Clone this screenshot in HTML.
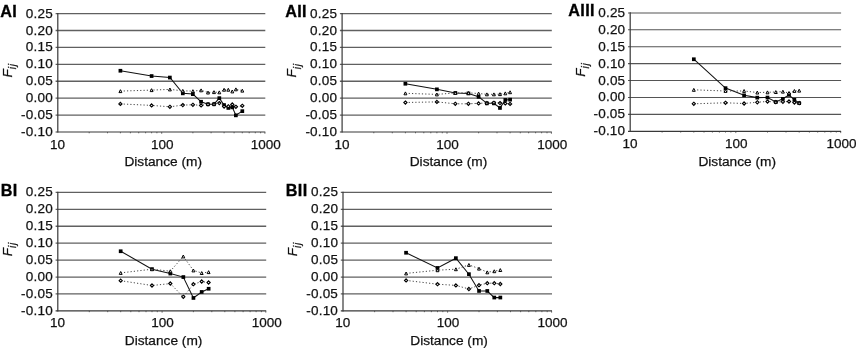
<!DOCTYPE html>
<html><head><meta charset="utf-8"><title>Fij vs distance</title>
<style>html,body{margin:0;padding:0;background:#fff}svg{display:block}</style></head>
<body>
<svg width="856" height="348" viewBox="0 0 856 348" font-family="Liberation Sans, Arial, Helvetica, sans-serif" fill="#111" stroke="#111" stroke-width="0.25">
<g>
<line x1="55.6" y1="13.60" x2="265.3" y2="13.60" stroke="#606060" stroke-width="1.3"/>
<line x1="55.6" y1="30.51" x2="265.3" y2="30.51" stroke="#606060" stroke-width="1.3"/>
<line x1="55.6" y1="47.43" x2="265.3" y2="47.43" stroke="#606060" stroke-width="1.3"/>
<line x1="55.6" y1="64.34" x2="265.3" y2="64.34" stroke="#606060" stroke-width="1.3"/>
<line x1="55.6" y1="81.26" x2="265.3" y2="81.26" stroke="#606060" stroke-width="1.3"/>
<line x1="55.6" y1="98.17" x2="265.3" y2="98.17" stroke="#606060" stroke-width="1.3"/>
<line x1="55.6" y1="115.09" x2="265.3" y2="115.09" stroke="#606060" stroke-width="1.3"/>
<line x1="55.6" y1="132.00" x2="265.3" y2="132.00" stroke="#383838" stroke-width="1.15"/>
<line x1="57.8" y1="13.00" x2="57.8" y2="132.60" stroke="#383838" stroke-width="1.2"/>
<path d="M89.2 132.0v1.3M107.5 132.0v1.3M120.4 132.0v1.3M130.4 132.0v1.3M138.7 132.0v1.3M145.6 132.0v1.3M151.6 132.0v1.3M156.9 132.0v1.3M192.9 132.0v1.3M211.1 132.0v1.3M224.1 132.0v1.3M234.1 132.0v1.3M242.3 132.0v1.3M249.2 132.0v1.3M255.3 132.0v1.3M260.6 132.0v1.3M161.7 132.0v1.8M264.9 132.0v1.8" stroke="#383838" stroke-width="0.7" fill="none"/>
<text x="52.9" y="17.60" font-size="13.5" letter-spacing="0.2" text-anchor="end">0.25</text>
<text x="52.9" y="34.51" font-size="13.5" letter-spacing="0.2" text-anchor="end">0.20</text>
<text x="52.9" y="51.43" font-size="13.5" letter-spacing="0.2" text-anchor="end">0.15</text>
<text x="52.9" y="68.34" font-size="13.5" letter-spacing="0.2" text-anchor="end">0.10</text>
<text x="52.9" y="85.26" font-size="13.5" letter-spacing="0.2" text-anchor="end">0.05</text>
<text x="52.9" y="102.17" font-size="13.5" letter-spacing="0.2" text-anchor="end">0.00</text>
<text x="52.9" y="119.09" font-size="13.5" letter-spacing="0.2" text-anchor="end">-0.05</text>
<text x="52.9" y="136.00" font-size="13.5" letter-spacing="0.2" text-anchor="end">-0.10</text>
<text x="57.6" y="148.50" font-size="13.5" text-anchor="middle">10</text>
<text x="162.2" y="148.50" font-size="13.5" text-anchor="middle">100</text>
<text x="265.8" y="148.50" font-size="13.5" text-anchor="middle">1000</text>
<text x="163.2" y="166.30" font-size="13.7" text-anchor="middle">Distance (m)</text>
<text x="0.2" y="17.00" font-size="16.2" font-weight="bold" fill="#000" stroke="#000" stroke-width="0.3" letter-spacing="0.35">AI</text>
<text transform="translate(12.1 77.4) rotate(-90)" font-size="13.5" font-style="italic">F<tspan font-size="10.3" dy="4.1" letter-spacing="0.7">ij</tspan></text>
<polyline points="120.4,70.8 151.6,76.0 169.9,77.5 182.8,93.3 192.9,94.1 201.1,101.8 208.0,104.2 214.0,104.2 219.3,98.1 224.1,105.0 228.3,107.9 232.3,107.3 235.9,115.3 242.3,111.1" fill="none" stroke="#111" stroke-width="1.05"/>
<rect x="118.55" y="68.90" width="3.7" height="3.7" fill="#000" stroke="none"/>
<rect x="149.76" y="74.20" width="3.7" height="3.7" fill="#000" stroke="none"/>
<rect x="168.01" y="75.70" width="3.7" height="3.7" fill="#000" stroke="none"/>
<rect x="180.96" y="91.50" width="3.7" height="3.7" fill="#000" stroke="none"/>
<rect x="191.00" y="92.30" width="3.7" height="3.7" fill="#000" stroke="none"/>
<rect x="199.21" y="99.90" width="3.7" height="3.7" fill="#000" stroke="none"/>
<rect x="206.15" y="102.40" width="3.7" height="3.7" fill="#000" stroke="none"/>
<rect x="212.16" y="102.40" width="3.7" height="3.7" fill="#000" stroke="none"/>
<rect x="217.46" y="96.30" width="3.7" height="3.7" fill="#000" stroke="none"/>
<rect x="222.20" y="103.20" width="3.7" height="3.7" fill="#000" stroke="none"/>
<rect x="226.49" y="106.10" width="3.7" height="3.7" fill="#000" stroke="none"/>
<rect x="230.41" y="105.50" width="3.7" height="3.7" fill="#000" stroke="none"/>
<rect x="234.01" y="113.50" width="3.7" height="3.7" fill="#000" stroke="none"/>
<rect x="240.46" y="109.30" width="3.7" height="3.7" fill="#000" stroke="none"/>
<polyline points="120.4,91.1 151.6,90.1 169.9,89.4 182.8,90.8 192.9,91.1 201.1,90.3 208.0,92.5 214.0,92.1 219.3,92.3 224.1,89.8 228.3,89.8 232.3,91.4 235.9,89.3 242.3,90.6" fill="none" stroke="#444" stroke-width="1" stroke-dasharray="1.2 2.1"/>
<polyline points="120.4,103.9 151.6,105.4 169.9,106.8 182.8,105.1 192.9,104.8 201.1,105.3 208.0,104.2 214.0,104.1 219.3,103.1 224.1,106.5 228.3,106.2 232.3,104.4 235.9,106.8 242.3,105.8" fill="none" stroke="#444" stroke-width="1" stroke-dasharray="1.2 2.1"/>
<path d="M120.4 89.7l1.45 2.9h-2.9z" fill="#fff" stroke="#000" stroke-width="1.0"/>
<path d="M151.6 88.7l1.45 2.9h-2.9z" fill="#fff" stroke="#000" stroke-width="1.0"/>
<path d="M169.9 88.0l1.45 2.9h-2.9z" fill="#fff" stroke="#000" stroke-width="1.0"/>
<path d="M182.8 89.4l1.45 2.9h-2.9z" fill="#fff" stroke="#000" stroke-width="1.0"/>
<path d="M192.9 89.7l1.45 2.9h-2.9z" fill="#fff" stroke="#000" stroke-width="1.0"/>
<path d="M201.1 88.9l1.45 2.9h-2.9z" fill="#fff" stroke="#000" stroke-width="1.0"/>
<path d="M208.0 91.1l1.45 2.9h-2.9z" fill="#fff" stroke="#000" stroke-width="1.0"/>
<path d="M214.0 90.7l1.45 2.9h-2.9z" fill="#fff" stroke="#000" stroke-width="1.0"/>
<path d="M219.3 90.9l1.45 2.9h-2.9z" fill="#fff" stroke="#000" stroke-width="1.0"/>
<path d="M224.1 88.3l1.45 2.9h-2.9z" fill="#fff" stroke="#000" stroke-width="1.0"/>
<path d="M228.3 88.3l1.45 2.9h-2.9z" fill="#fff" stroke="#000" stroke-width="1.0"/>
<path d="M232.3 90.0l1.45 2.9h-2.9z" fill="#fff" stroke="#000" stroke-width="1.0"/>
<path d="M235.9 87.9l1.45 2.9h-2.9z" fill="#fff" stroke="#000" stroke-width="1.0"/>
<path d="M242.3 89.2l1.45 2.9h-2.9z" fill="#fff" stroke="#000" stroke-width="1.0"/>
<path d="M120.4 102.3l1.6 1.6l-1.6 1.6l-1.6 -1.6z" fill="#fff" stroke="#000" stroke-width="1.1"/>
<path d="M151.6 103.8l1.6 1.6l-1.6 1.6l-1.6 -1.6z" fill="#fff" stroke="#000" stroke-width="1.1"/>
<path d="M169.9 105.2l1.6 1.6l-1.6 1.6l-1.6 -1.6z" fill="#fff" stroke="#000" stroke-width="1.1"/>
<path d="M182.8 103.5l1.6 1.6l-1.6 1.6l-1.6 -1.6z" fill="#fff" stroke="#000" stroke-width="1.1"/>
<path d="M192.9 103.2l1.6 1.6l-1.6 1.6l-1.6 -1.6z" fill="#fff" stroke="#000" stroke-width="1.1"/>
<path d="M201.1 103.8l1.6 1.6l-1.6 1.6l-1.6 -1.6z" fill="#fff" stroke="#000" stroke-width="1.1"/>
<path d="M208.0 102.7l1.6 1.6l-1.6 1.6l-1.6 -1.6z" fill="#fff" stroke="#000" stroke-width="1.1"/>
<path d="M214.0 102.5l1.6 1.6l-1.6 1.6l-1.6 -1.6z" fill="#fff" stroke="#000" stroke-width="1.1"/>
<path d="M219.3 101.5l1.6 1.6l-1.6 1.6l-1.6 -1.6z" fill="#fff" stroke="#000" stroke-width="1.1"/>
<path d="M224.1 105.0l1.6 1.6l-1.6 1.6l-1.6 -1.6z" fill="#fff" stroke="#000" stroke-width="1.1"/>
<path d="M228.3 104.7l1.6 1.6l-1.6 1.6l-1.6 -1.6z" fill="#fff" stroke="#000" stroke-width="1.1"/>
<path d="M232.3 102.8l1.6 1.6l-1.6 1.6l-1.6 -1.6z" fill="#fff" stroke="#000" stroke-width="1.1"/>
<path d="M235.9 105.2l1.6 1.6l-1.6 1.6l-1.6 -1.6z" fill="#fff" stroke="#000" stroke-width="1.1"/>
<path d="M242.3 104.2l1.6 1.6l-1.6 1.6l-1.6 -1.6z" fill="#fff" stroke="#000" stroke-width="1.1"/>
</g>
<g>
<line x1="339.9" y1="13.60" x2="551.8" y2="13.60" stroke="#606060" stroke-width="1.3"/>
<line x1="339.9" y1="30.51" x2="551.8" y2="30.51" stroke="#606060" stroke-width="1.3"/>
<line x1="339.9" y1="47.43" x2="551.8" y2="47.43" stroke="#606060" stroke-width="1.3"/>
<line x1="339.9" y1="64.34" x2="551.8" y2="64.34" stroke="#606060" stroke-width="1.3"/>
<line x1="339.9" y1="81.26" x2="551.8" y2="81.26" stroke="#606060" stroke-width="1.3"/>
<line x1="339.9" y1="98.17" x2="551.8" y2="98.17" stroke="#606060" stroke-width="1.3"/>
<line x1="339.9" y1="115.09" x2="551.8" y2="115.09" stroke="#606060" stroke-width="1.3"/>
<line x1="339.9" y1="132.00" x2="551.8" y2="132.00" stroke="#383838" stroke-width="1.15"/>
<line x1="342.1" y1="13.00" x2="342.1" y2="132.60" stroke="#383838" stroke-width="1.2"/>
<path d="M373.8 132.0v1.3M392.3 132.0v1.3M405.4 132.0v1.3M415.5 132.0v1.3M423.8 132.0v1.3M430.8 132.0v1.3M436.9 132.0v1.3M442.3 132.0v1.3M478.6 132.0v1.3M497.0 132.0v1.3M510.1 132.0v1.3M520.3 132.0v1.3M528.6 132.0v1.3M535.6 132.0v1.3M541.6 132.0v1.3M547.0 132.0v1.3M447.0 132.0v1.8M551.4 132.0v1.8" stroke="#383838" stroke-width="0.7" fill="none"/>
<text x="337.2" y="17.60" font-size="13.5" letter-spacing="0.2" text-anchor="end">0.25</text>
<text x="337.2" y="34.51" font-size="13.5" letter-spacing="0.2" text-anchor="end">0.20</text>
<text x="337.2" y="51.43" font-size="13.5" letter-spacing="0.2" text-anchor="end">0.15</text>
<text x="337.2" y="68.34" font-size="13.5" letter-spacing="0.2" text-anchor="end">0.10</text>
<text x="337.2" y="85.26" font-size="13.5" letter-spacing="0.2" text-anchor="end">0.05</text>
<text x="337.2" y="102.17" font-size="13.5" letter-spacing="0.2" text-anchor="end">0.00</text>
<text x="337.2" y="119.09" font-size="13.5" letter-spacing="0.2" text-anchor="end">-0.05</text>
<text x="337.2" y="136.00" font-size="13.5" letter-spacing="0.2" text-anchor="end">-0.10</text>
<text x="341.9" y="148.50" font-size="13.5" text-anchor="middle">10</text>
<text x="447.5" y="148.50" font-size="13.5" text-anchor="middle">100</text>
<text x="552.3" y="148.50" font-size="13.5" text-anchor="middle">1000</text>
<text x="448.5" y="166.30" font-size="13.7" text-anchor="middle">Distance (m)</text>
<text x="285.2" y="17.00" font-size="16.2" font-weight="bold" fill="#000" stroke="#000" stroke-width="0.3" letter-spacing="0.35">AII</text>
<text transform="translate(296.4 77.4) rotate(-90)" font-size="13.5" font-style="italic">F<tspan font-size="10.3" dy="4.1" letter-spacing="0.7">ij</tspan></text>
<polyline points="405.4,83.8 436.9,89.3 455.3,92.9 468.4,93.4 478.6,96.8 486.9,103.3 493.9,103.3 500.0,107.9 505.3,99.9 510.1,99.6" fill="none" stroke="#111" stroke-width="1.05"/>
<rect x="403.52" y="81.90" width="3.7" height="3.7" fill="#000" stroke="none"/>
<rect x="435.05" y="87.50" width="3.7" height="3.7" fill="#000" stroke="none"/>
<rect x="453.49" y="91.10" width="3.7" height="3.7" fill="#000" stroke="none"/>
<rect x="466.58" y="91.60" width="3.7" height="3.7" fill="#000" stroke="none"/>
<rect x="476.73" y="95.00" width="3.7" height="3.7" fill="#000" stroke="none"/>
<rect x="485.03" y="101.50" width="3.7" height="3.7" fill="#000" stroke="none"/>
<rect x="492.04" y="101.50" width="3.7" height="3.7" fill="#000" stroke="none"/>
<rect x="498.11" y="106.10" width="3.7" height="3.7" fill="#000" stroke="none"/>
<rect x="503.47" y="98.10" width="3.7" height="3.7" fill="#000" stroke="none"/>
<rect x="508.27" y="97.80" width="3.7" height="3.7" fill="#000" stroke="none"/>
<polyline points="405.4,93.3 436.9,94.4 455.3,92.9 468.4,92.9 478.6,93.5 486.9,94.3 493.9,94.3 500.0,94.1 505.3,93.3 510.1,92.2" fill="none" stroke="#444" stroke-width="1" stroke-dasharray="1.2 2.1"/>
<polyline points="405.4,102.5 436.9,101.9 455.3,103.8 468.4,103.8 478.6,103.3 486.9,103.0 493.9,102.8 500.0,103.0 505.3,103.3 510.1,103.9" fill="none" stroke="#444" stroke-width="1" stroke-dasharray="1.2 2.1"/>
<path d="M405.4 91.9l1.45 2.9h-2.9z" fill="#fff" stroke="#000" stroke-width="1.0"/>
<path d="M436.9 93.0l1.45 2.9h-2.9z" fill="#fff" stroke="#000" stroke-width="1.0"/>
<path d="M455.3 91.5l1.45 2.9h-2.9z" fill="#fff" stroke="#000" stroke-width="1.0"/>
<path d="M468.4 91.5l1.45 2.9h-2.9z" fill="#fff" stroke="#000" stroke-width="1.0"/>
<path d="M478.6 92.1l1.45 2.9h-2.9z" fill="#fff" stroke="#000" stroke-width="1.0"/>
<path d="M486.9 92.9l1.45 2.9h-2.9z" fill="#fff" stroke="#000" stroke-width="1.0"/>
<path d="M493.9 92.9l1.45 2.9h-2.9z" fill="#fff" stroke="#000" stroke-width="1.0"/>
<path d="M500.0 92.7l1.45 2.9h-2.9z" fill="#fff" stroke="#000" stroke-width="1.0"/>
<path d="M505.3 91.9l1.45 2.9h-2.9z" fill="#fff" stroke="#000" stroke-width="1.0"/>
<path d="M510.1 90.8l1.45 2.9h-2.9z" fill="#fff" stroke="#000" stroke-width="1.0"/>
<path d="M405.4 101.0l1.6 1.6l-1.6 1.6l-1.6 -1.6z" fill="#fff" stroke="#000" stroke-width="1.1"/>
<path d="M436.9 100.3l1.6 1.6l-1.6 1.6l-1.6 -1.6z" fill="#fff" stroke="#000" stroke-width="1.1"/>
<path d="M455.3 102.2l1.6 1.6l-1.6 1.6l-1.6 -1.6z" fill="#fff" stroke="#000" stroke-width="1.1"/>
<path d="M468.4 102.2l1.6 1.6l-1.6 1.6l-1.6 -1.6z" fill="#fff" stroke="#000" stroke-width="1.1"/>
<path d="M478.6 101.8l1.6 1.6l-1.6 1.6l-1.6 -1.6z" fill="#fff" stroke="#000" stroke-width="1.1"/>
<path d="M486.9 101.5l1.6 1.6l-1.6 1.6l-1.6 -1.6z" fill="#fff" stroke="#000" stroke-width="1.1"/>
<path d="M493.9 101.2l1.6 1.6l-1.6 1.6l-1.6 -1.6z" fill="#fff" stroke="#000" stroke-width="1.1"/>
<path d="M500.0 101.5l1.6 1.6l-1.6 1.6l-1.6 -1.6z" fill="#fff" stroke="#000" stroke-width="1.1"/>
<path d="M505.3 101.8l1.6 1.6l-1.6 1.6l-1.6 -1.6z" fill="#fff" stroke="#000" stroke-width="1.1"/>
<path d="M510.1 102.3l1.6 1.6l-1.6 1.6l-1.6 -1.6z" fill="#fff" stroke="#000" stroke-width="1.1"/>
</g>
<g>
<line x1="628.0" y1="12.90" x2="841.1" y2="12.90" stroke="#555" stroke-width="1.05"/>
<line x1="628.0" y1="29.81" x2="841.1" y2="29.81" stroke="#555" stroke-width="1.05"/>
<line x1="628.0" y1="46.73" x2="841.1" y2="46.73" stroke="#555" stroke-width="1.05"/>
<line x1="628.0" y1="63.64" x2="841.1" y2="63.64" stroke="#555" stroke-width="1.05"/>
<line x1="628.0" y1="80.56" x2="841.1" y2="80.56" stroke="#555" stroke-width="1.05"/>
<line x1="628.0" y1="97.47" x2="841.1" y2="97.47" stroke="#555" stroke-width="1.05"/>
<line x1="628.0" y1="114.39" x2="841.1" y2="114.39" stroke="#555" stroke-width="1.05"/>
<line x1="628.0" y1="131.30" x2="841.1" y2="131.30" stroke="#383838" stroke-width="1.15"/>
<line x1="630.2" y1="12.30" x2="630.2" y2="131.90" stroke="#383838" stroke-width="1.2"/>
<path d="M662.1 131.3v1.3M680.7 131.3v1.3M693.8 131.3v1.3M704.0 131.3v1.3M712.4 131.3v1.3M719.4 131.3v1.3M725.5 131.3v1.3M730.9 131.3v1.3M767.5 131.3v1.3M786.0 131.3v1.3M799.2 131.3v1.3M809.4 131.3v1.3M817.7 131.3v1.3M824.8 131.3v1.3M830.9 131.3v1.3M836.3 131.3v1.3M735.8 131.3v1.8M840.7 131.3v1.8" stroke="#383838" stroke-width="0.7" fill="none"/>
<text x="625.3" y="16.90" font-size="13.5" letter-spacing="0.2" text-anchor="end">0.25</text>
<text x="625.3" y="33.81" font-size="13.5" letter-spacing="0.2" text-anchor="end">0.20</text>
<text x="625.3" y="50.73" font-size="13.5" letter-spacing="0.2" text-anchor="end">0.15</text>
<text x="625.3" y="67.64" font-size="13.5" letter-spacing="0.2" text-anchor="end">0.10</text>
<text x="625.3" y="84.56" font-size="13.5" letter-spacing="0.2" text-anchor="end">0.05</text>
<text x="625.3" y="101.47" font-size="13.5" letter-spacing="0.2" text-anchor="end">0.00</text>
<text x="625.3" y="118.39" font-size="13.5" letter-spacing="0.2" text-anchor="end">-0.05</text>
<text x="625.3" y="135.30" font-size="13.5" letter-spacing="0.2" text-anchor="end">-0.10</text>
<text x="630.0" y="147.80" font-size="13.5" text-anchor="middle">10</text>
<text x="736.2" y="147.80" font-size="13.5" text-anchor="middle">100</text>
<text x="841.6" y="147.80" font-size="13.5" text-anchor="middle">1000</text>
<text x="737.2" y="165.60" font-size="13.7" text-anchor="middle">Distance (m)</text>
<text x="568.3" y="16.30" font-size="16.2" font-weight="bold" fill="#000" stroke="#000" stroke-width="0.3" letter-spacing="0.35">AIII</text>
<text transform="translate(584.5 76.7) rotate(-90)" font-size="13.5" font-style="italic">F<tspan font-size="10.3" dy="4.1" letter-spacing="0.7">ij</tspan></text>
<polyline points="693.8,59.2 725.5,88.1 744.1,95.3 757.3,97.6 767.5,97.5 775.8,102.0 782.9,98.8 789.0,94.8 794.4,99.8 799.2,103.1" fill="none" stroke="#111" stroke-width="1.05"/>
<rect x="691.98" y="57.40" width="3.7" height="3.7" fill="#000" stroke="none"/>
<rect x="723.69" y="86.30" width="3.7" height="3.7" fill="#000" stroke="none"/>
<rect x="742.24" y="93.50" width="3.7" height="3.7" fill="#000" stroke="none"/>
<rect x="755.40" y="95.80" width="3.7" height="3.7" fill="#000" stroke="none"/>
<rect x="765.61" y="95.70" width="3.7" height="3.7" fill="#000" stroke="none"/>
<rect x="773.96" y="100.20" width="3.7" height="3.7" fill="#000" stroke="none"/>
<rect x="781.01" y="97.00" width="3.7" height="3.7" fill="#000" stroke="none"/>
<rect x="787.12" y="93.00" width="3.7" height="3.7" fill="#000" stroke="none"/>
<rect x="792.51" y="97.90" width="3.7" height="3.7" fill="#000" stroke="none"/>
<rect x="797.33" y="101.30" width="3.7" height="3.7" fill="#000" stroke="none"/>
<polyline points="693.8,89.8 725.5,91.0 744.1,91.0 757.3,92.5 767.5,92.3 775.8,92.0 782.9,91.6 789.0,93.0 794.4,91.0 799.2,90.6" fill="none" stroke="#444" stroke-width="1" stroke-dasharray="1.2 2.1"/>
<polyline points="693.8,103.8 725.5,102.8 744.1,103.5 757.3,102.2 767.5,101.5 775.8,102.0 782.9,101.8 789.0,101.5 794.4,102.6 799.2,103.1" fill="none" stroke="#444" stroke-width="1" stroke-dasharray="1.2 2.1"/>
<path d="M693.8 88.4l1.45 2.9h-2.9z" fill="#fff" stroke="#000" stroke-width="1.0"/>
<path d="M725.5 89.5l1.45 2.9h-2.9z" fill="#fff" stroke="#000" stroke-width="1.0"/>
<path d="M744.1 89.5l1.45 2.9h-2.9z" fill="#fff" stroke="#000" stroke-width="1.0"/>
<path d="M757.3 91.1l1.45 2.9h-2.9z" fill="#fff" stroke="#000" stroke-width="1.0"/>
<path d="M767.5 90.9l1.45 2.9h-2.9z" fill="#fff" stroke="#000" stroke-width="1.0"/>
<path d="M775.8 90.6l1.45 2.9h-2.9z" fill="#fff" stroke="#000" stroke-width="1.0"/>
<path d="M782.9 90.2l1.45 2.9h-2.9z" fill="#fff" stroke="#000" stroke-width="1.0"/>
<path d="M789.0 91.5l1.45 2.9h-2.9z" fill="#fff" stroke="#000" stroke-width="1.0"/>
<path d="M794.4 89.5l1.45 2.9h-2.9z" fill="#fff" stroke="#000" stroke-width="1.0"/>
<path d="M799.2 89.2l1.45 2.9h-2.9z" fill="#fff" stroke="#000" stroke-width="1.0"/>
<path d="M693.8 102.2l1.6 1.6l-1.6 1.6l-1.6 -1.6z" fill="#fff" stroke="#000" stroke-width="1.1"/>
<path d="M725.5 101.2l1.6 1.6l-1.6 1.6l-1.6 -1.6z" fill="#fff" stroke="#000" stroke-width="1.1"/>
<path d="M744.1 101.9l1.6 1.6l-1.6 1.6l-1.6 -1.6z" fill="#fff" stroke="#000" stroke-width="1.1"/>
<path d="M757.3 100.7l1.6 1.6l-1.6 1.6l-1.6 -1.6z" fill="#fff" stroke="#000" stroke-width="1.1"/>
<path d="M767.5 100.0l1.6 1.6l-1.6 1.6l-1.6 -1.6z" fill="#fff" stroke="#000" stroke-width="1.1"/>
<path d="M775.8 100.5l1.6 1.6l-1.6 1.6l-1.6 -1.6z" fill="#fff" stroke="#000" stroke-width="1.1"/>
<path d="M782.9 100.2l1.6 1.6l-1.6 1.6l-1.6 -1.6z" fill="#fff" stroke="#000" stroke-width="1.1"/>
<path d="M789.0 99.9l1.6 1.6l-1.6 1.6l-1.6 -1.6z" fill="#fff" stroke="#000" stroke-width="1.1"/>
<path d="M794.4 101.0l1.6 1.6l-1.6 1.6l-1.6 -1.6z" fill="#fff" stroke="#000" stroke-width="1.1"/>
<path d="M799.2 101.5l1.6 1.6l-1.6 1.6l-1.6 -1.6z" fill="#fff" stroke="#000" stroke-width="1.1"/>
</g>
<g>
<line x1="55.6" y1="192.40" x2="266.2" y2="192.40" stroke="#606060" stroke-width="1.3"/>
<line x1="55.6" y1="209.33" x2="266.2" y2="209.33" stroke="#606060" stroke-width="1.3"/>
<line x1="55.6" y1="226.26" x2="266.2" y2="226.26" stroke="#606060" stroke-width="1.3"/>
<line x1="55.6" y1="243.19" x2="266.2" y2="243.19" stroke="#606060" stroke-width="1.3"/>
<line x1="55.6" y1="260.11" x2="266.2" y2="260.11" stroke="#606060" stroke-width="1.3"/>
<line x1="55.6" y1="277.04" x2="266.2" y2="277.04" stroke="#606060" stroke-width="1.3"/>
<line x1="55.6" y1="293.97" x2="266.2" y2="293.97" stroke="#606060" stroke-width="1.3"/>
<line x1="55.6" y1="310.90" x2="266.2" y2="310.90" stroke="#383838" stroke-width="1.15"/>
<line x1="57.8" y1="191.80" x2="57.8" y2="311.50" stroke="#383838" stroke-width="1.2"/>
<path d="M89.3 310.9v1.3M107.7 310.9v1.3M120.7 310.9v1.3M130.8 310.9v1.3M139.0 310.9v1.3M146.0 310.9v1.3M152.0 310.9v1.3M157.3 310.9v1.3M193.4 310.9v1.3M211.8 310.9v1.3M224.8 310.9v1.3M234.9 310.9v1.3M243.1 310.9v1.3M250.1 310.9v1.3M256.1 310.9v1.3M261.4 310.9v1.3M162.1 310.9v1.8M265.8 310.9v1.8" stroke="#383838" stroke-width="0.7" fill="none"/>
<text x="52.9" y="196.40" font-size="13.5" letter-spacing="0.2" text-anchor="end">0.25</text>
<text x="52.9" y="213.33" font-size="13.5" letter-spacing="0.2" text-anchor="end">0.20</text>
<text x="52.9" y="230.26" font-size="13.5" letter-spacing="0.2" text-anchor="end">0.15</text>
<text x="52.9" y="247.19" font-size="13.5" letter-spacing="0.2" text-anchor="end">0.10</text>
<text x="52.9" y="264.11" font-size="13.5" letter-spacing="0.2" text-anchor="end">0.05</text>
<text x="52.9" y="281.04" font-size="13.5" letter-spacing="0.2" text-anchor="end">0.00</text>
<text x="52.9" y="297.97" font-size="13.5" letter-spacing="0.2" text-anchor="end">-0.05</text>
<text x="52.9" y="314.90" font-size="13.5" letter-spacing="0.2" text-anchor="end">-0.10</text>
<text x="57.6" y="327.40" font-size="13.5" text-anchor="middle">10</text>
<text x="162.6" y="327.40" font-size="13.5" text-anchor="middle">100</text>
<text x="266.7" y="327.40" font-size="13.5" text-anchor="middle">1000</text>
<text x="163.6" y="345.20" font-size="13.7" text-anchor="middle">Distance (m)</text>
<text x="0.8" y="195.80" font-size="16.2" font-weight="bold" fill="#000" stroke="#000" stroke-width="0.3" letter-spacing="0.35">BI</text>
<text transform="translate(12.1 256.2) rotate(-90)" font-size="13.5" font-style="italic">F<tspan font-size="10.3" dy="4.1" letter-spacing="0.7">ij</tspan></text>
<polyline points="120.7,251.2 152.0,269.2 170.3,273.6 183.3,277.1 193.4,298.0 201.7,292.0 208.6,288.8" fill="none" stroke="#111" stroke-width="1.05"/>
<rect x="118.82" y="249.40" width="3.7" height="3.7" fill="#000" stroke="none"/>
<rect x="150.16" y="267.30" width="3.7" height="3.7" fill="#000" stroke="none"/>
<rect x="168.49" y="271.70" width="3.7" height="3.7" fill="#000" stroke="none"/>
<rect x="181.50" y="275.20" width="3.7" height="3.7" fill="#000" stroke="none"/>
<rect x="191.59" y="296.10" width="3.7" height="3.7" fill="#000" stroke="none"/>
<rect x="199.83" y="290.10" width="3.7" height="3.7" fill="#000" stroke="none"/>
<rect x="206.80" y="286.90" width="3.7" height="3.7" fill="#000" stroke="none"/>
<polyline points="120.7,272.9 152.0,269.2 170.3,271.2 183.3,256.4 193.4,270.4 201.7,273.0 208.6,272.1" fill="none" stroke="#444" stroke-width="1" stroke-dasharray="1.2 2.1"/>
<polyline points="120.7,280.7 152.0,285.5 170.3,283.6 183.3,296.9 193.4,284.2 201.7,281.6 208.6,282.5" fill="none" stroke="#444" stroke-width="1" stroke-dasharray="1.2 2.1"/>
<path d="M120.7 271.5l1.45 2.9h-2.9z" fill="#fff" stroke="#000" stroke-width="1.0"/>
<path d="M152.0 267.8l1.45 2.9h-2.9z" fill="#fff" stroke="#000" stroke-width="1.0"/>
<path d="M170.3 269.8l1.45 2.9h-2.9z" fill="#fff" stroke="#000" stroke-width="1.0"/>
<path d="M183.3 255.0l1.45 2.9h-2.9z" fill="#fff" stroke="#000" stroke-width="1.0"/>
<path d="M193.4 269.0l1.45 2.9h-2.9z" fill="#fff" stroke="#000" stroke-width="1.0"/>
<path d="M201.7 271.6l1.45 2.9h-2.9z" fill="#fff" stroke="#000" stroke-width="1.0"/>
<path d="M208.6 270.7l1.45 2.9h-2.9z" fill="#fff" stroke="#000" stroke-width="1.0"/>
<path d="M120.7 279.1l1.6 1.6l-1.6 1.6l-1.6 -1.6z" fill="#fff" stroke="#000" stroke-width="1.1"/>
<path d="M152.0 283.9l1.6 1.6l-1.6 1.6l-1.6 -1.6z" fill="#fff" stroke="#000" stroke-width="1.1"/>
<path d="M170.3 281.9l1.6 1.6l-1.6 1.6l-1.6 -1.6z" fill="#fff" stroke="#000" stroke-width="1.1"/>
<path d="M183.3 295.2l1.6 1.6l-1.6 1.6l-1.6 -1.6z" fill="#fff" stroke="#000" stroke-width="1.1"/>
<path d="M193.4 282.6l1.6 1.6l-1.6 1.6l-1.6 -1.6z" fill="#fff" stroke="#000" stroke-width="1.1"/>
<path d="M201.7 279.9l1.6 1.6l-1.6 1.6l-1.6 -1.6z" fill="#fff" stroke="#000" stroke-width="1.1"/>
<path d="M208.6 280.9l1.6 1.6l-1.6 1.6l-1.6 -1.6z" fill="#fff" stroke="#000" stroke-width="1.1"/>
</g>
<g>
<line x1="340.8" y1="192.40" x2="552.0" y2="192.40" stroke="#606060" stroke-width="1.3"/>
<line x1="340.8" y1="209.33" x2="552.0" y2="209.33" stroke="#606060" stroke-width="1.3"/>
<line x1="340.8" y1="226.26" x2="552.0" y2="226.26" stroke="#606060" stroke-width="1.3"/>
<line x1="340.8" y1="243.19" x2="552.0" y2="243.19" stroke="#606060" stroke-width="1.3"/>
<line x1="340.8" y1="260.11" x2="552.0" y2="260.11" stroke="#606060" stroke-width="1.3"/>
<line x1="340.8" y1="277.04" x2="552.0" y2="277.04" stroke="#606060" stroke-width="1.3"/>
<line x1="340.8" y1="293.97" x2="552.0" y2="293.97" stroke="#606060" stroke-width="1.3"/>
<line x1="340.8" y1="310.90" x2="552.0" y2="310.90" stroke="#383838" stroke-width="1.15"/>
<line x1="343.0" y1="191.80" x2="343.0" y2="311.50" stroke="#383838" stroke-width="1.2"/>
<path d="M374.6 310.9v1.3M393.0 310.9v1.3M406.1 310.9v1.3M416.2 310.9v1.3M424.4 310.9v1.3M431.4 310.9v1.3M437.5 310.9v1.3M442.8 310.9v1.3M479.0 310.9v1.3M497.4 310.9v1.3M510.5 310.9v1.3M520.6 310.9v1.3M528.8 310.9v1.3M535.8 310.9v1.3M541.9 310.9v1.3M547.2 310.9v1.3M447.6 310.9v1.8M551.6 310.9v1.8" stroke="#383838" stroke-width="0.7" fill="none"/>
<text x="338.1" y="196.40" font-size="13.5" letter-spacing="0.2" text-anchor="end">0.25</text>
<text x="338.1" y="213.33" font-size="13.5" letter-spacing="0.2" text-anchor="end">0.20</text>
<text x="338.1" y="230.26" font-size="13.5" letter-spacing="0.2" text-anchor="end">0.15</text>
<text x="338.1" y="247.19" font-size="13.5" letter-spacing="0.2" text-anchor="end">0.10</text>
<text x="338.1" y="264.11" font-size="13.5" letter-spacing="0.2" text-anchor="end">0.05</text>
<text x="338.1" y="281.04" font-size="13.5" letter-spacing="0.2" text-anchor="end">0.00</text>
<text x="338.1" y="297.97" font-size="13.5" letter-spacing="0.2" text-anchor="end">-0.05</text>
<text x="338.1" y="314.90" font-size="13.5" letter-spacing="0.2" text-anchor="end">-0.10</text>
<text x="342.8" y="327.40" font-size="13.5" text-anchor="middle">10</text>
<text x="448.1" y="327.40" font-size="13.5" text-anchor="middle">100</text>
<text x="552.5" y="327.40" font-size="13.5" text-anchor="middle">1000</text>
<text x="449.1" y="345.20" font-size="13.7" text-anchor="middle">Distance (m)</text>
<text x="285.8" y="195.80" font-size="16.2" font-weight="bold" fill="#000" stroke="#000" stroke-width="0.3" letter-spacing="0.35">BII</text>
<text transform="translate(297.3 256.2) rotate(-90)" font-size="13.5" font-style="italic">F<tspan font-size="10.3" dy="4.1" letter-spacing="0.7">ij</tspan></text>
<polyline points="406.1,252.8 437.5,268.0 455.9,258.2 468.9,274.2 479.0,291.0 487.3,291.0 494.3,297.6 500.3,297.6" fill="none" stroke="#111" stroke-width="1.05"/>
<rect x="404.21" y="250.90" width="3.7" height="3.7" fill="#000" stroke="none"/>
<rect x="435.63" y="266.10" width="3.7" height="3.7" fill="#000" stroke="none"/>
<rect x="454.02" y="256.30" width="3.7" height="3.7" fill="#000" stroke="none"/>
<rect x="467.06" y="272.30" width="3.7" height="3.7" fill="#000" stroke="none"/>
<rect x="477.18" y="289.10" width="3.7" height="3.7" fill="#000" stroke="none"/>
<rect x="485.44" y="289.10" width="3.7" height="3.7" fill="#000" stroke="none"/>
<rect x="492.43" y="295.70" width="3.7" height="3.7" fill="#000" stroke="none"/>
<rect x="498.49" y="295.70" width="3.7" height="3.7" fill="#000" stroke="none"/>
<polyline points="406.1,273.4 437.5,270.2 455.9,269.2 468.9,264.9 479.0,268.6 487.3,272.2 494.3,271.2 500.3,270.0" fill="none" stroke="#444" stroke-width="1" stroke-dasharray="1.2 2.1"/>
<polyline points="406.1,280.4 437.5,284.2 455.9,285.4 468.9,289.0 479.0,285.2 487.3,283.2 494.3,283.2 500.3,284.1" fill="none" stroke="#444" stroke-width="1" stroke-dasharray="1.2 2.1"/>
<path d="M406.1 272.0l1.45 2.9h-2.9z" fill="#fff" stroke="#000" stroke-width="1.0"/>
<path d="M437.5 268.8l1.45 2.9h-2.9z" fill="#fff" stroke="#000" stroke-width="1.0"/>
<path d="M455.9 267.8l1.45 2.9h-2.9z" fill="#fff" stroke="#000" stroke-width="1.0"/>
<path d="M468.9 263.5l1.45 2.9h-2.9z" fill="#fff" stroke="#000" stroke-width="1.0"/>
<path d="M479.0 267.2l1.45 2.9h-2.9z" fill="#fff" stroke="#000" stroke-width="1.0"/>
<path d="M487.3 270.9l1.45 2.9h-2.9z" fill="#fff" stroke="#000" stroke-width="1.0"/>
<path d="M494.3 269.8l1.45 2.9h-2.9z" fill="#fff" stroke="#000" stroke-width="1.0"/>
<path d="M500.3 268.6l1.45 2.9h-2.9z" fill="#fff" stroke="#000" stroke-width="1.0"/>
<path d="M406.1 278.8l1.6 1.6l-1.6 1.6l-1.6 -1.6z" fill="#fff" stroke="#000" stroke-width="1.1"/>
<path d="M437.5 282.6l1.6 1.6l-1.6 1.6l-1.6 -1.6z" fill="#fff" stroke="#000" stroke-width="1.1"/>
<path d="M455.9 283.8l1.6 1.6l-1.6 1.6l-1.6 -1.6z" fill="#fff" stroke="#000" stroke-width="1.1"/>
<path d="M468.9 287.4l1.6 1.6l-1.6 1.6l-1.6 -1.6z" fill="#fff" stroke="#000" stroke-width="1.1"/>
<path d="M479.0 283.6l1.6 1.6l-1.6 1.6l-1.6 -1.6z" fill="#fff" stroke="#000" stroke-width="1.1"/>
<path d="M487.3 281.6l1.6 1.6l-1.6 1.6l-1.6 -1.6z" fill="#fff" stroke="#000" stroke-width="1.1"/>
<path d="M494.3 281.6l1.6 1.6l-1.6 1.6l-1.6 -1.6z" fill="#fff" stroke="#000" stroke-width="1.1"/>
<path d="M500.3 282.4l1.6 1.6l-1.6 1.6l-1.6 -1.6z" fill="#fff" stroke="#000" stroke-width="1.1"/>
</g>
</svg>
</body></html>
